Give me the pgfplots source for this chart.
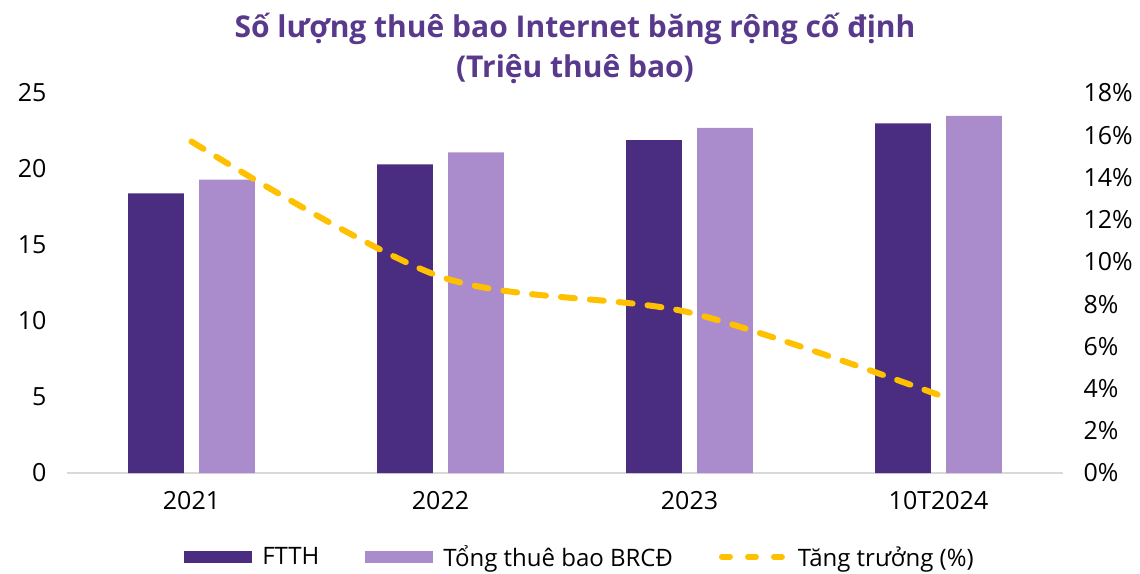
\documentclass[border=0pt]{standalone}
\usepackage{pgfplots}
\pgfplotsset{compat=1.18}
\usepackage{fontspec}
\setmainfont{Open Sans}
\newfontfamily\titlefont{Open Sans}
\newfontfamily\legfont{Open Sans}
\definecolor{ftth}{HTML}{4A2D80}
\definecolor{tong}{HTML}{AA8CCD}
\definecolor{gold}{HTML}{FFC000}
\definecolor{ttl}{HTML}{58398C}
\definecolor{baseline}{HTML}{D9D9D9}
\begin{document}
\begin{tikzpicture}[x=1pt,y=1pt]
\useasboundingbox (-67,-100) rectangle (1073,473);
\begin{axis}[
  at={(0,0)}, anchor=south west,
  scale only axis, width=996pt, height=380pt,
  xmin=-0.5, xmax=3.5, ymin=0, ymax=25,
  ytick={0,5,...,25},
  xtick={0,1,2,3},
  xticklabels={2021,2022,2023,10T2024},
  axis x line*=bottom, axis y line=none,
  x axis line style={draw=baseline, line width=1.2pt, -},
  major tick length=0pt,
  ybar, bar width=55.7pt,
  font=\fontsize{25}{29}\selectfont,
  /pgf/number format/assume math mode=true,
  xticklabel style={yshift=-15pt},
  title={\titlefont\bfseries Số lượng thuê bao Internet băng rộng cố định\\\titlefont\bfseries (Triệu thuê bao)},
  title style={at={(axis description cs:0.5,1)}, anchor=south, xshift=10pt, yshift=0pt, align=center, text=ttl, font=\fontsize{30}{40}\selectfont},
  legend columns=3,
  legend style={at={(axis description cs:0.5,0)}, anchor=center, xshift=15pt, yshift=-84pt, draw=none, fill=none, font=\legfont\fontsize{24}{28}\selectfont, /tikz/every odd column/.append style={column sep=8pt}, /tikz/every even column/.append style={column sep=44pt}},
  legend cell align=left,
]
\addplot[draw=none, fill=ftth, bar shift=-35.5pt,
  legend image code/.code={\fill[ftth] (0pt,-6pt) rectangle (68pt,6pt);}]
  coordinates {(0,18.4) (1,20.3) (2,21.9) (3,23.0)};
\addlegendentry{FTTH}
\addplot[draw=none, fill=tong, bar shift=35.5pt,
  legend image code/.code={\fill[tong] (0pt,-6pt) rectangle (68pt,6pt);}]
  coordinates {(0,19.3) (1,21.1) (2,22.7) (3,23.5)};
\addlegendentry{Tổng thuê bao BRCĐ}
\addlegendimage{legend image code/.code={\draw[gold, line width=6pt, line cap=round, dash pattern=on 8pt off 18pt] (3pt,0pt) -- (66pt,0pt);}}
\addlegendentry{Tăng trưởng (\%)}
\end{axis}
\begin{axis}[
  at={(0,0)}, anchor=south west,
  scale only axis, width=996pt, height=380pt,
  xmin=-0.5, xmax=3.5, ymin=0, ymax=18,
  ytick={0,2,...,18},
  yticklabel={\pgfmathprintnumber{\tick}\%},
  axis x line=none, axis y line*=right,
  y axis line style={draw=none},
  major tick length=0pt,
  font=\fontsize{25}{29}\selectfont,
  /pgf/number format/assume math mode=true,
  yticklabel style={anchor=west, xshift=17pt},
]
\addplot[gold, line width=6pt, line cap=round, dash pattern=on 14pt off 15pt, smooth, tension=0.5]
  coordinates {(0,15.7) (1,9.3) (2,7.6) (3,3.7)};
\end{axis}
\begin{axis}[
  at={(0,0)}, anchor=south west,
  scale only axis, width=996pt, height=380pt,
  xmin=-0.5, xmax=3.5, ymin=0, ymax=25,
  ytick={0,5,...,25},
  axis x line=none, axis y line*=left,
  y axis line style={draw=none},
  major tick length=0pt,
  font=\fontsize{25}{29}\selectfont,
  /pgf/number format/assume math mode=true,
  yticklabel style={anchor=east, xshift=-17pt},
]
\end{axis}
\end{tikzpicture}
\end{document}
